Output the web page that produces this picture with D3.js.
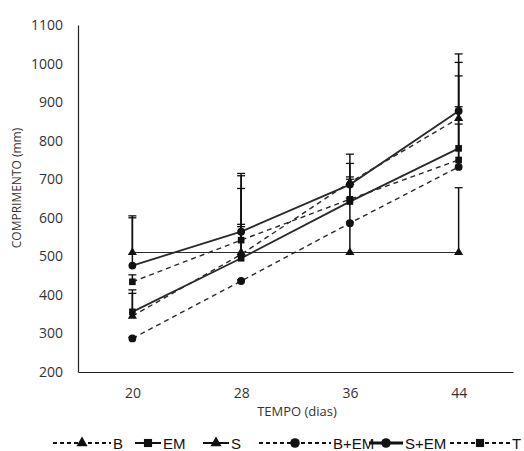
<!DOCTYPE html>
<html><head><meta charset="utf-8">
<script src="https://cdn.jsdelivr.net/npm/d3@7"></script>
<style>body{margin:0;background:#fff}</style>
</head><body>
<svg id="c" width="524" height="451"></svg>
<script>
// ---- data ----
const categories = [20, 28, 36, 44];
const yTicks = [200, 300, 400, 500, 600, 700, 800, 900, 1000, 1100];
const seriesNames = ["B", "EM", "S", "B+EM", "S+EM", "T"];
const valuesB   = [345, 505, 692, 858];
const valuesEM  = [356, 495, 642, 780];
const valuesS   = [510, 510, 510, 510];
const valuesBEM = [287, 436, 586, 732];
const valuesSEM = [476, 564, 686, 877];
const valuesT   = [434, 542, 648, 750];
const errB   = [59, 78, 14, 110];
const errEM  = [57, 82, 58, 108];
const errS   = [95, 166, 255, 168];
const errBEM = [3, 3, 3, 271];
const errSEM = [124, 151, 55, 148];
const errT   = [18, 167, 3, 93];
const xTitle = "TEMPO (dias)";
const yTitle = "COMPRIMENTO (mm)";

// ---- styles ----
const style = {
  "B":    {dash: "5,4", marker: "triangle", width: 1.4},
  "EM":   {dash: null,  marker: "square",   width: 1.8},
  "S":    {dash: null,  marker: "triangle", width: 1.2},
  "B+EM": {dash: "5,4", marker: "circle",   width: 1.4},
  "S+EM": {dash: null,  marker: "circle",   width: 1.8},
  "T":    {dash: "5,4", marker: "square",   width: 1.4}
};
const series = [
  {name: "B", values: valuesB, err: errB},
  {name: "EM", values: valuesEM, err: errEM},
  {name: "S", values: valuesS, err: errS},
  {name: "B+EM", values: valuesBEM, err: errBEM},
  {name: "S+EM", values: valuesSEM, err: errSEM},
  {name: "T", values: valuesT, err: errT}
];

const svg = d3.select("#c");
const x = d3.scalePoint().domain(categories).range([78, 513]).padding(0.5);
const y = d3.scaleLinear().domain([200, 1100]).range([372, 25]);

const symType = {triangle: d3.symbolTriangle, square: d3.symbolSquare, circle: d3.symbolCircle};
const symSize = {triangle: 36, square: 44, circle: 48};

// axes
const yAxis = svg.append("g").attr("transform", "translate(78,0)")
  .call(d3.axisLeft(y).tickValues(yTicks).tickFormat(d3.format("d")).tickSize(0).tickPadding(15).tickSizeOuter(0));
yAxis.select(".domain").attr("stroke", "#222").attr("stroke-width", 1.2);
yAxis.selectAll("text").attr("font-family", "Open Sans").attr("font-size", 14).attr("fill", "#333");

const xAxis = svg.append("g").attr("transform", "translate(0,372)")
  .call(d3.axisBottom(x).tickSize(0).tickPadding(16).tickSizeOuter(0));
xAxis.select(".domain").attr("stroke", "#222").attr("stroke-width", 1.2);
xAxis.selectAll("text").attr("font-family", "Open Sans").attr("font-size", 14).attr("fill", "#333");

svg.append("text").attr("x", 297).attr("y", 416).attr("text-anchor", "middle")
  .attr("font-family", "Open Sans").attr("font-size", 13).attr("fill", "#333").text(xTitle);
svg.append("text").attr("transform", "translate(21,188) rotate(-90)").attr("text-anchor", "middle")
  .attr("font-family", "Open Sans").attr("font-size", 12).attr("fill", "#333").text(yTitle);

// error bars (plus direction)
const eg = svg.append("g");
series.forEach(s => {
  s.values.forEach((v, i) => {
    const cx = x(categories[i]);
    eg.append("line").attr("x1", cx).attr("x2", cx)
      .attr("y1", y(v)).attr("y2", y(v + s.err[i]))
      .attr("stroke", "#111").attr("stroke-width", 1.5);
    eg.append("line").attr("x1", cx - 4).attr("x2", cx + 4)
      .attr("y1", y(v + s.err[i])).attr("y2", y(v + s.err[i]))
      .attr("stroke", "#111").attr("stroke-width", 1.3);
  });
});

// lines
const line = d3.line().x((d, i) => x(categories[i])).y(d => y(d));
series.forEach(s => {
  const st = style[s.name];
  svg.append("path").datum(s.values).attr("d", line)
    .attr("fill", "none").attr("stroke", "#2a2a2a")
    .attr("stroke-width", st.width)
    .attr("stroke-dasharray", st.dash);
});
// markers
series.forEach(s => {
  const st = style[s.name];
  svg.append("g").selectAll("path").data(s.values).join("path")
    .attr("transform", (d, i) => `translate(${x(categories[i])},${y(d)})`)
    .attr("d", d3.symbol().type(symType[st.marker]).size(symSize[st.marker]))
    .attr("fill", "#111");
});

// legend
const legendItems = [
  {name: "B", x0: 53, x1: 111},
  {name: "EM", x0: 135, x1: 161},
  {name: "S", x0: 203, x1: 229},
  {name: "B+EM", x0: 259, x1: 331},
  {name: "S+EM", x0: 369, x1: 403},
  {name: "T", x0: 450, x1: 510}
];
const ly = 443;
const lg = svg.append("g");
legendItems.forEach(it => {
  const st = style[it.name];
  lg.append("line").attr("x1", it.x0).attr("x2", it.x1).attr("y1", ly).attr("y2", ly)
    .attr("stroke", "#111").attr("stroke-width", it.name === "S+EM" ? 3 : 2)
    .attr("stroke-dasharray", st.dash ? "4,3" : null);
  lg.append("path").attr("transform", `translate(${(it.x0 + it.x1) / 2},${ly})`)
    .attr("d", d3.symbol().type(symType[st.marker]).size(symSize[st.marker] * 1.5))
    .attr("fill", "#111");
  lg.append("text").attr("x", it.x1 + 2).attr("y", ly + 6)
    .attr("font-family", "Liberation Sans").attr("font-size", 15).attr("fill", "#111")
    .text(it.name);
});
</script>
</body></html>
